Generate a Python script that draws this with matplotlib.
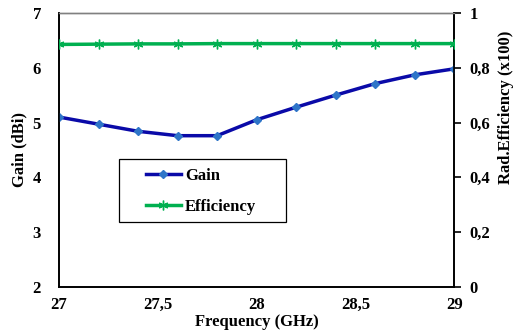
import matplotlib
matplotlib.use("Agg")
import matplotlib.pyplot as plt
from matplotlib.patches import Rectangle

freq = [27.0, 27.2, 27.4, 27.6, 27.8, 28.0, 28.2, 28.4, 28.6, 28.8, 29.0]
gain = [5.10, 4.97, 4.84, 4.76, 4.76, 5.05, 5.28, 5.50, 5.71, 5.87, 5.98]
efficiency = [0.885, 0.886, 0.887, 0.887, 0.888, 0.888, 0.888, 0.888, 0.888, 0.888, 0.888]

x_ticks = [27, 27.5, 28, 28.5, 29]
x_labels = ["27", "27,5", "28", "28,5", "29"]
left_ticks = [2, 3, 4, 5, 6, 7]
right_ticks = [0, 0.2, 0.4, 0.6, 0.8, 1.0]
right_labels = ["0", "0,2", "0,4", "0,6", "0,8", "1"]

plt.rcParams['font.family'] = ['Liberation Serif', 'DejaVu Serif']
plt.rcParams['font.weight'] = 'bold'

fig = plt.figure(figsize=(5.2, 3.31), dpi=100)
ax = fig.add_axes([0.1135, 0.133, 0.76, 0.828])
ax2 = ax.twinx()

l1, = ax.plot(freq, gain, color='#0a0aa8', lw=2.5, marker='D', ms=4.5,
              mfc='#2e75c8', mec='#2e75c8', label='Gain', zorder=3)
l2, = ax2.plot(freq, efficiency, color='#00b050', lw=2.5, marker=(6, 2, 0), ms=7,
               mec='#00b050', mew=1.0, label='Efficiency', zorder=3)

ax.set_xlim(27, 29)
ax.set_ylim(2, 7)
ax2.set_ylim(0, 1)
ax.set_xticks(x_ticks)
ax.set_xticklabels(x_labels)
ax.set_yticks(left_ticks)
ax2.set_yticks(right_ticks)
ax2.set_yticklabels(right_labels)

ax.tick_params(axis='x', length=0, pad=7, labelsize=12)
ax.tick_params(axis='y', length=0, pad=13, labelsize=12)
ax2.tick_params(axis='y', length=5, width=1.2, pad=6, labelsize=12, direction='out')

for a in (ax, ax2):
    a.spines['top'].set_color('#808080')
    a.spines['top'].set_linewidth(1.0)
    for s in ('left', 'right', 'bottom'):
        a.spines[s].set_color('black')
        a.spines[s].set_linewidth(1.2)

ax.set_xlabel('Frequency (GHz)', fontsize=12, fontweight='bold')
ax.xaxis.set_label_coords(0.5, -0.1)
ax.set_ylabel('Gain (dBi)', fontsize=12, fontweight='bold')
ax.yaxis.set_label_coords(-0.081, 0.5)
ax2.set_ylabel('Rad.Efficiency (x100)', fontsize=12, fontweight='bold')
ax2.yaxis.set_label_coords(1.111, 0.657)

# legend box
box = Rectangle((0.152, 0.237), 0.423, 0.230, transform=ax.transAxes,
                facecolor='white', edgecolor='black', lw=0.9, zorder=4)
ax2.add_patch(box)
leg = ax2.legend(handles=[l1, l2], loc='center left', bbox_to_anchor=(0.22, 0.35),
                 frameon=False, fontsize=12, handlelength=2.1, borderpad=0,
                 labelspacing=0.9, handletextpad=0.25, borderaxespad=0)
leg.set_zorder(5)

fig.savefig('out.png', dpi=100)
